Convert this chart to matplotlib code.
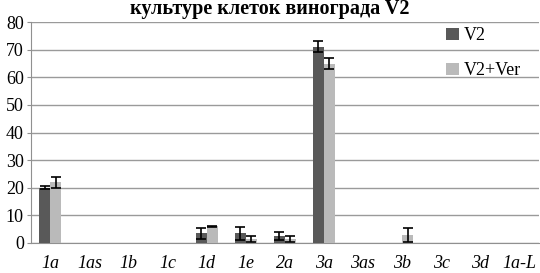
import numpy as np
import matplotlib.pyplot as plt

categories = ["1a", "1as", "1b", "1c", "1d", "1e", "2a", "3a", "3as", "3b", "3c", "3d", "1a-L"]
v2 = [20, 0, 0, 0, 3.5, 3.5, 2.5, 71, 0, 0, 0, 0, 0]
v2_err = [0.5, 0, 0, 0, 2, 2.3, 1.3, 2, 0, 0, 0, 0, 0]
v2ver = [22, 0, 0, 0, 6, 1.5, 1.5, 65, 0, 3, 0, 0, 0]
v2ver_err = [2, 0, 0, 0, 0.3, 1.2, 1, 2, 0, 2.5, 0, 0, 0]
yticks = [0, 10, 20, 30, 40, 50, 60, 70, 80]

plt.rcParams['font.family'] = ['Liberation Serif', 'DejaVu Serif']

fig = plt.figure(figsize=(5.4, 2.73), dpi=100)
ax = fig.add_axes([0.057, 0.11, 0.941, 0.809])

x = np.arange(len(categories))
w = 0.28
ekw = dict(ecolor="black", elinewidth=1.2, capsize=3.5, capthick=1.2)
# hide error bars where there is no bar
v2_yerr = np.where(np.array(v2) > 0, v2_err, np.nan)
ver_yerr = np.where(np.array(v2ver) > 0, v2ver_err, np.nan)
ax.bar(x - w / 2, v2, w, color="#595959", yerr=v2_yerr, error_kw=ekw, label="V2", zorder=3)
ax.bar(x + w / 2, v2ver, w, color="#bababa", yerr=ver_yerr, error_kw=ekw, label="V2+Ver", zorder=3)

ax.set_xlim(-0.5, len(categories) - 0.5)
ax.set_ylim(0, 80)
ax.set_yticks(yticks)
ax.set_xticks(x)
ax.set_xticklabels(categories, style="italic", fontsize=13)
ax.tick_params(axis="y", labelsize=13, length=3, color="#909090", pad=2)
ax.tick_params(axis="x", length=0, pad=9)
ax.yaxis.grid(True, color="#9a9a9a", linewidth=1, zorder=0)
ax.set_axisbelow(True)
for s in ["top", "right"]:
    ax.spines[s].set_visible(False)
for s in ["left", "bottom"]:
    ax.spines[s].set_color("#909090")

ax.legend(loc="upper left", bbox_to_anchor=(0.785, 1.05), frameon=False, fontsize=13,
          handlelength=0.7, handleheight=0.7, handletextpad=0.3, labelspacing=1.0)

fig.text(0.5, 1.005, "культуре клеток винограда V2", ha="center", va="top",
         fontsize=14.5, fontweight="bold")

fig.savefig("out.png", dpi=100)
